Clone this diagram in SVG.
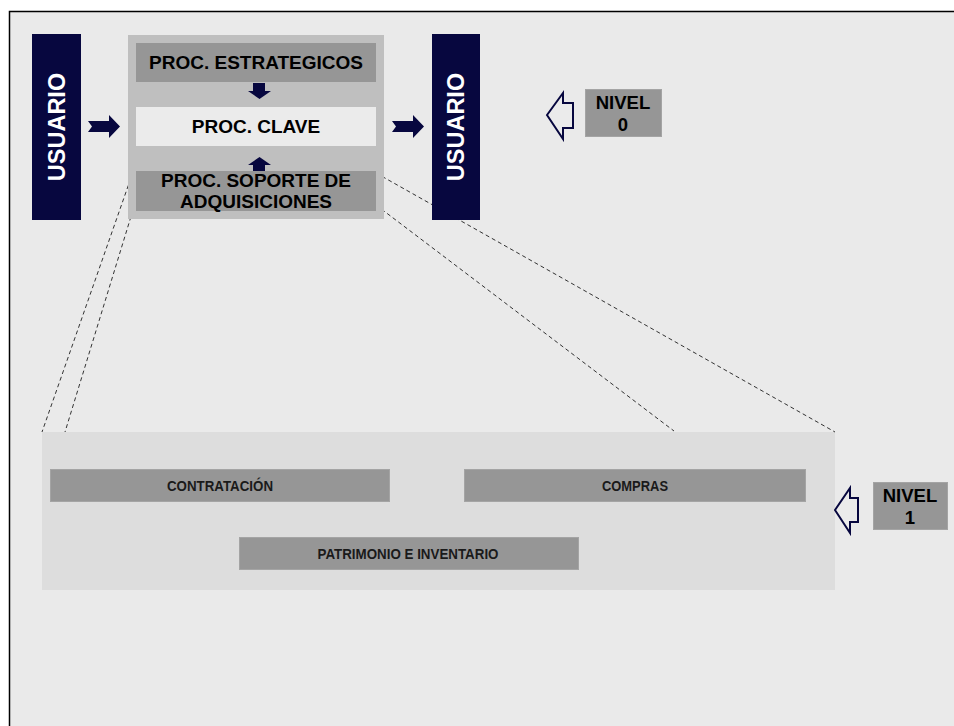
<svg xmlns="http://www.w3.org/2000/svg" width="954" height="726" viewBox="0 0 954 726">
  <style>
    .navy { fill: #07073f; }
    .box { fill: #969696; stroke: #a4a4a4; stroke-width: 1; }
    .big { font-family: "Liberation Sans", Arial, sans-serif; font-weight: bold; font-size: 19px; fill: #000; text-anchor: middle; }
    .tag { font-family: "Liberation Sans", Arial, sans-serif; font-weight: bold; font-size: 18.5px; fill: #000; text-anchor: middle; }
    .usr { font-family: "Liberation Sans", Arial, sans-serif; font-weight: bold; font-size: 23.5px; fill: #fff; text-anchor: middle; }
    .small { font-family: "Liberation Sans", Arial, sans-serif; font-weight: bold; font-size: 14.5px; fill: #1a1a1a; text-anchor: middle; }
    .dash { fill: none; stroke: #333; stroke-width: 1; stroke-dasharray: 4 3; }
    .outline { fill: #ebebeb; stroke: #07073f; stroke-width: 2; stroke-linejoin: miter; }
  </style>

  <!-- page -->
  <rect x="0" y="0" width="954" height="726" fill="#ffffff"/>
  <rect x="9" y="11" width="945" height="715" fill="#eaeaea"/>
  <path d="M9.5 726 V11.5 H954" fill="none" stroke="#000" stroke-width="1.5"/>

  <!-- level 1 panel -->
  <g id="panel-nivel1">
    <rect x="42" y="432" width="793" height="158" fill="#dddddd"/>
  </g>

  <!-- zoom connectors -->
  <g id="connectors">
    <line class="dash" x1="133" y1="172" x2="42" y2="432"/>
    <line class="dash" x1="133" y1="210" x2="65" y2="432"/>
    <line class="dash" x1="376" y1="173" x2="835" y2="432"/>
    <line class="dash" x1="376" y1="205" x2="674" y2="431"/>
  </g>

  <!-- left user -->
  <g id="usuario-entrada">
    <rect class="navy" x="32" y="34" width="49" height="186"/>
    <text class="usr" transform="translate(65,127) rotate(-90)">USUARIO</text>
  </g>

  <!-- level 0 process map -->
  <g id="mapa-nivel0">
    <rect x="128" y="35" width="256" height="184" fill="#bfbfbf"/>
  </g>
  <g id="proc-estrategicos">
    <rect x="136" y="43" width="240" height="39" fill="#969696"/>
    <text class="big" x="256" y="69">PROC. ESTRATEGICOS</text>
  </g>
  <g id="proc-clave">
    <rect x="136" y="107" width="240" height="39" fill="#ebebeb"/>
    <text class="big" x="256" y="133">PROC. CLAVE</text>
  </g>
  <g id="proc-soporte">
    <rect x="136" y="171" width="240" height="40" fill="#969696"/>
    <text class="big" x="256" y="187">PROC. SOPORTE DE</text>
    <text class="big" x="256" y="208">ADQUISICIONES</text>
  </g>

  <!-- flow arrows -->
  <g id="flow-arrows">
    <polygon class="navy" points="88,121 109,121 109,115 120,126.5 109,138 109,132 88,132 92,126.5"/>
    <polygon class="navy" points="392,121 413,121 413,115 424,126.5 413,138 413,132 392,132 396,126.5"/>
    <polygon class="navy" points="253,83 265,83 265,91 271,91 259.5,99 248,91 253,91"/>
    <polygon class="navy" points="259.5,157 271,165 265,165 265,171 253,171 253,165 248,165"/>
  </g>

  <!-- right user -->
  <g id="usuario-salida">
    <rect class="navy" x="432" y="34" width="48" height="186"/>
    <text class="usr" transform="translate(464,127) rotate(-90)">USUARIO</text>
  </g>

  <!-- level 0 tag -->
  <g id="nivel0">
    <polygon class="outline" points="547,115 563,93 563,103 573,103 573,128 563,128 563,139"/>
    <rect class="box" x="585.5" y="89.5" width="76" height="47"/>
    <text class="tag" x="623" y="109">NIVEL</text>
    <text class="tag" x="623" y="131">0</text>
  </g>

  <!-- level 1 processes -->
  <g id="contratacion">
    <rect class="box" x="50.5" y="469.5" width="339" height="32"/>
    <text class="small" x="220" y="491" textLength="106" lengthAdjust="spacingAndGlyphs">CONTRATACIÓN</text>
  </g>
  <g id="compras">
    <rect class="box" x="464.5" y="469.5" width="341" height="32"/>
    <text class="small" x="635" y="491" textLength="66" lengthAdjust="spacingAndGlyphs">COMPRAS</text>
  </g>
  <g id="patrimonio">
    <rect class="box" x="239.5" y="537.5" width="339" height="32"/>
    <text class="small" x="408" y="559" textLength="181" lengthAdjust="spacingAndGlyphs">PATRIMONIO E INVENTARIO</text>
  </g>

  <!-- level 1 tag -->
  <g id="nivel1">
    <polygon class="outline" points="835,510 850,488 850,498 858,498 858,522 850,522 850,533"/>
    <rect class="box" x="873.5" y="482.5" width="74" height="47"/>
    <text class="tag" x="910" y="502">NIVEL</text>
    <text class="tag" x="910" y="524">1</text>
  </g>
</svg>
